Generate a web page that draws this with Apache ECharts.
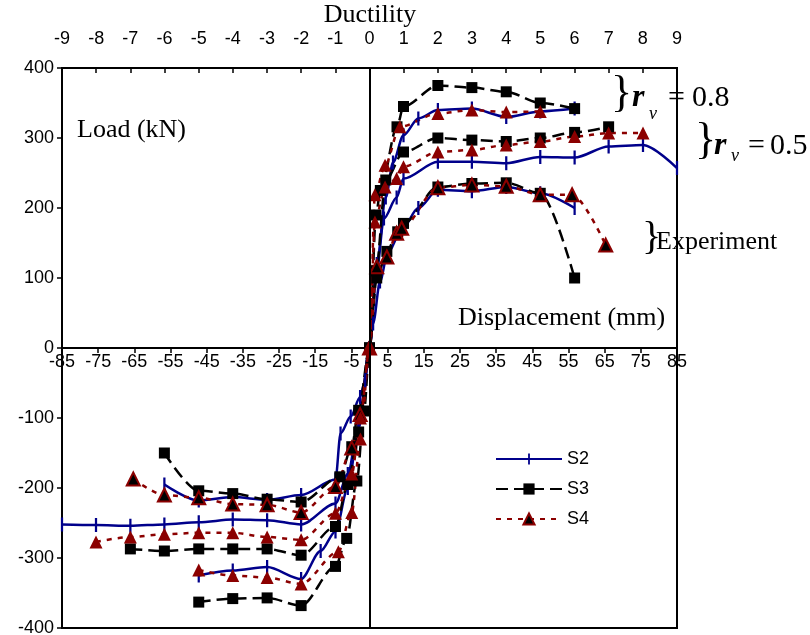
<!DOCTYPE html>
<html>
<head>
<meta charset="utf-8">
<script src="https://cdn.jsdelivr.net/npm/echarts@6/dist/echarts.min.js"></script>
<style>
  html, body { margin: 0; padding: 0; background: #fff; }
  #chart { width: 810px; height: 635px; }
</style>
</head>
<body>
<div id="chart"></div>
<script>
  // envelopes: [displacement mm, load kN], negative branch then positive branch
  var s2Exp = [[-56.7,-195],[-47.2,-218],[-37.8,-213],[-28.3,-217],[-18.9,-210],[-9.4,-188],[-8,-122],[-5.2,-98],[-2.6,-70],[-1.2,-46],[0,0],
    [1,35],[2.9,95],[5,135],[8.9,169],[13.5,200],[18.9,226],[28.3,224],[37.8,230],[47.2,221],[56.7,200]]
  var s2R05 = [[-85,-252],[-75.6,-253],[-66.1,-254],[-56.7,-252],[-47.2,-249],[-37.8,-245],[-28.3,-246],[-18.9,-252],[-9.4,-222],[-6,-180],[-3,-110],[0,0],
    [2,110],[4,185],[7.5,215],[9.4,242],[18.9,266],[28.3,266],[37.8,264],[47.2,273],[56.7,272],[66.1,288],[75.6,290],[85,257]]
  var s2R08 = [[-47.2,-325],[-37.8,-318],[-28.3,-313],[-18.9,-330],[-13.5,-290],[-9.4,-262],[-6,-200],[-3,-115],[0,0],
    [2,120],[4.5,215],[6.5,265],[9.4,304],[13.5,328],[18.9,340],[28.3,342],[37.8,330],[47.2,338],[56.7,342]]

  var s3Exp = [[-56.7,-150],[-47.2,-204],[-37.8,-208],[-28.3,-216],[-18.9,-220],[-8.2,-184],[-4.9,-141],[-3,-89],[0,0],
    [2,100],[4.8,138],[7.8,166],[9.4,178],[18.9,230],[28.3,235],[37.8,236],[47.2,221],[56.7,100]]
  var s3R05 = [[-66.1,-287],[-56.7,-290],[-47.2,-287],[-37.8,-287],[-28.3,-287],[-18.9,-296],[-9.4,-255],[-6,-195],[-3,-120],[0,0],
    [1.8,110],[4.5,240],[9.4,280],[18.9,300],[28.3,297],[37.8,295],[47.2,300],[56.7,308],[66.1,316]]
  var s3R08 = [[-47.2,-363],[-37.8,-358],[-28.3,-357],[-18.9,-368],[-9.4,-312],[-6.3,-272],[-3.5,-190],[-1.5,-90],[0,0],
    [1.8,190],[3,225],[7.6,316],[9.4,345],[18.9,375],[28.3,372],[37.8,366],[47.2,350],[56.7,342]]

  var s4Exp = [[-65.3,-187],[-56.7,-210],[-47.2,-214],[-37.8,-223],[-28.3,-224],[-18.9,-235],[-9.4,-198],[-4.9,-143],[-2.6,-95],[0,0],
    [2,116],[4.8,130],[7.5,164],[8.9,171],[18.9,229],[28.3,233],[37.8,231],[47.2,219],[56,219],[65.3,147]]
  var s4R05 = [[-75.6,-277],[-66.1,-270],[-56.7,-266],[-47.2,-264],[-37.8,-264],[-28.3,-270],[-18.9,-274],[-9.4,-236],[-4.9,-180],[-2.5,-100],[0,0],
    [1.5,180],[4.3,230],[7.5,242],[9.4,259],[18.9,280],[28.3,283],[37.8,290],[47.2,295],[56.7,302],[66.1,307],[75.6,307]]
  var s4R08 = [[-47.2,-317],[-37.8,-325],[-28.3,-328],[-18.9,-337],[-8.6,-291],[-4.9,-235],[-2.5,-130],[0,0],
    [1.5,219],[4.3,261],[8.4,316],[18.9,335],[28.3,340],[37.8,337],[47.2,338]]

  // axis ranges [min, max, step]
  var dispRange = [-85, 85, 10]
  var ductRange = [-9, 9, 1]
  var loadRange = [-400, 400, 100]

  var NAVY = '#00008b'
  var DARKRED = '#8b0000'
  var SANS = '"Liberation Sans", Arial, sans-serif'
  var SERIF = '"Liberation Serif", "Times New Roman", serif'
  // vertical tick mark ("+"-like marker), padded so the bbox is square
  var tickSym = 'path://M0,0h0.01v0.01h-0.01z M4.2,0h1.6v10h-1.6z M9.99,9.99h0.01v0.01h-0.01z'

  var gridTop = 68, gridBottom = 7, chartH = 635

  function s2(data) {
    return { name: 'S2', type: 'line', data: data, smooth: 0.3, smoothMonotone: 'x',
      symbol: tickSym, symbolSize: 14,
      lineStyle: { color: NAVY, width: 2.5 }, itemStyle: { color: NAVY } }
  }
  function s3(data) {
    return { name: 'S3', type: 'line', data: data, smooth: 0.3, smoothMonotone: 'x',
      symbol: 'rect', symbolSize: 11,
      lineStyle: { color: '#000', width: 2.5, type: [12, 6] }, itemStyle: { color: '#000' } }
  }
  function s4(data, exp) {
    return { name: 'S4', type: 'line', data: data, smooth: 0.3, smoothMonotone: 'x',
      symbol: 'triangle', symbolSize: 13,
      lineStyle: { color: DARKRED, width: 2.5, type: [5, 6] },
      itemStyle: exp ? { color: '#000', borderColor: DARKRED, borderWidth: 2 } : { color: DARKRED } }
  }

  function txt(text, x, y, font, align) {
    return { type: 'text', x: x, y: y, silent: true,
      style: { text: text, font: font, fill: '#000', align: align || 'left', verticalAlign: 'middle',
        textAlign: align || 'left', textVerticalAlign: 'middle' } }
  }

  var first = s2(s2Exp)
  first.markLine = { silent: true, symbol: 'none', label: { show: false },
    lineStyle: { color: '#000', width: 2, type: 'solid' }, data: [{ xAxis: 0 }] }

  // move the displacement axis up to load = 0
  var zeroOffset = -(chartH - gridTop - gridBottom) / 2

  var chart = echarts.init(document.getElementById('chart'))
  chart.setOption({
    animation: false,
    grid: { left: 62, right: 133, top: gridTop, bottom: gridBottom, show: true,
      borderColor: '#000', borderWidth: 2, outerBoundsMode: 'none', containLabel: false },
    legend: {
      data: ['S2', 'S3', 'S4'], orient: 'vertical', left: 490, top: 445,
      itemWidth: 66, itemHeight: 14, itemGap: 12,
      textStyle: { fontFamily: SANS, fontSize: 18, color: '#000' }
    },
    xAxis: [
      {
        type: 'value', min: dispRange[0], max: dispRange[1], interval: dispRange[2],
        position: 'bottom', offset: zeroOffset,
        axisLine: { onZero: false, lineStyle: { color: '#000', width: 2 } },
        axisTick: { show: true, inside: false, length: 5, lineStyle: { color: '#000', width: 1.5 } },
        axisLabel: { margin: 5, showMinLabel: true, showMaxLabel: true, hideOverlap: false,
          fontFamily: SANS, fontSize: 18, color: '#000' },
        splitLine: { show: false }
      },
      {
        type: 'value', min: ductRange[0], max: ductRange[1], interval: ductRange[2],
        position: 'top',
        axisLine: { onZero: false, lineStyle: { color: '#000', width: 2 } },
        axisTick: { show: true, inside: true, length: 5, lineStyle: { color: '#000', width: 1.5 } },
        axisLabel: { margin: 20, showMinLabel: true, showMaxLabel: true, hideOverlap: false,
          fontFamily: SANS, fontSize: 18, color: '#000' },
        splitLine: { show: false }
      }
    ],
    yAxis: {
      type: 'value', min: loadRange[0], max: loadRange[1], interval: loadRange[2],
      axisLine: { show: true, onZero: false, lineStyle: { color: '#000', width: 2 } },
      axisTick: { show: true, inside: false, length: 5, lineStyle: { color: '#000', width: 1.5 } },
      axisLabel: { margin: 8, showMinLabel: true, showMaxLabel: true, hideOverlap: false,
        fontFamily: SANS, fontSize: 18, color: '#000' },
      splitLine: { show: false }
    },
    graphic: [
      txt('Ductility', 370, 15, '26px ' + SERIF, 'center'),
      txt('Load (kN)', 77, 130, '26px ' + SERIF),
      txt('Displacement (mm)', 458, 318, '26px ' + SERIF),
      txt('}', 611, 94, '44px ' + SERIF),
      txt('r', 632, 98, 'italic bold 32px ' + SERIF),
      txt('v', 649, 114, 'italic 18px ' + SERIF),
      txt('=', 668, 98, '30px ' + SERIF),
      txt('0.8', 692, 98, '30px ' + SERIF),
      txt('}', 695, 141, '44px ' + SERIF),
      txt('r', 714, 146, 'italic bold 32px ' + SERIF),
      txt('v', 731, 156, 'italic 18px ' + SERIF),
      txt('=', 748, 146, '30px ' + SERIF),
      txt('0.5', 770, 146, '30px ' + SERIF),
      txt('}', 642, 238, '40px ' + SERIF),
      txt('Experiment', 656, 242, '26px ' + SERIF)
    ],
    series: [
      first, s2(s2R05), s2(s2R08),
      s3(s3Exp), s3(s3R05), s3(s3R08),
      s4(s4Exp, true), s4(s4R05), s4(s4R08)
    ]
  })
</script>
</body>
</html>
